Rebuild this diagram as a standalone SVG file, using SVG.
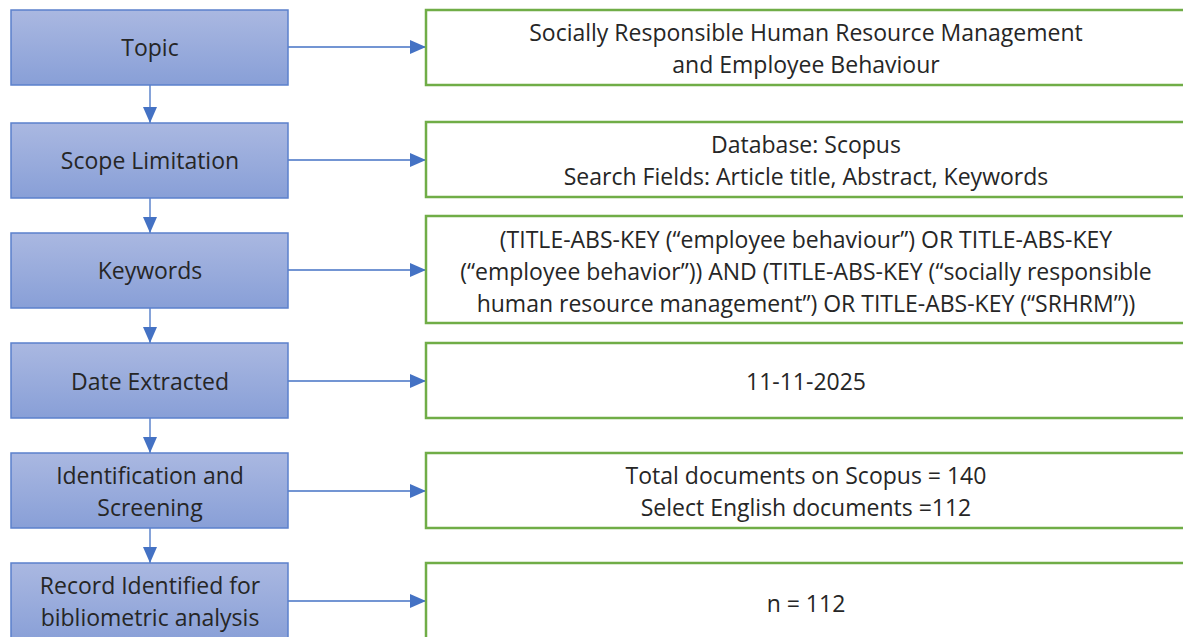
<svg xmlns="http://www.w3.org/2000/svg" width="1183" height="637" viewBox="0 0 1183 637">
<defs>
<linearGradient id="g" x1="0" y1="0" x2="0" y2="1">
<stop offset="0" stop-color="#AAB8E1"/>
<stop offset="1" stop-color="#889FD7"/>
</linearGradient>
<marker id="ah" markerWidth="16" markerHeight="14" refX="16" refY="7" orient="auto" markerUnits="userSpaceOnUse">
<path d="M0,0 L16,7 L0,14 Z" fill="#4472C4"/>
</marker>
<style>
.l{fill:url(#g);stroke:#5B80CC;stroke-width:1.5}
.r{fill:#fff;stroke:#70AD47;stroke-width:2.5}
.c{stroke:#4472C4;stroke-width:1.3;fill:none;marker-end:url(#ah)}
text{font-family:"Open Sans","Noto Sans",sans-serif;font-size:23px;fill:#262626;text-anchor:middle}
</style>
</defs>
<rect width="1183" height="637" fill="#fff"/>
<g id="connectors">
<path class="c" d="M288,47 H426"/>
<path class="c" d="M288,160 H426"/>
<path class="c" d="M288,270 H426"/>
<path class="c" d="M288,381 H426"/>
<path class="c" d="M288,491 H426"/>
<path class="c" d="M288,601 H426"/>
<path class="c" d="M150,85 V123"/>
<path class="c" d="M150,198 V233"/>
<path class="c" d="M150,308 V343"/>
<path class="c" d="M150,418 V453"/>
<path class="c" d="M150,528 V563"/>
</g>
<g id="n1"><rect class="l" x="11" y="10" width="277" height="75"/><text x="150" y="56">Topic</text></g>
<g id="n2"><rect class="l" x="11" y="123" width="277" height="75"/><text x="150" y="169">Scope Limitation</text></g>
<g id="n3"><rect class="l" x="11" y="233" width="277" height="75"/><text x="150" y="279">Keywords</text></g>
<g id="n4"><rect class="l" x="11" y="343" width="277" height="75"/><text x="150" y="390">Date Extracted</text></g>
<g id="n5"><rect class="l" x="11" y="453" width="277" height="75"/><text x="150" y="484">Identification and</text><text x="150" y="516">Screening</text></g>
<g id="n6"><rect class="l" x="11" y="563" width="277" height="80"/><text x="150" y="594">Record Identified for</text><text x="150" y="626">bibliometric analysis</text></g>
<g id="r1"><rect class="r" x="426" y="10" width="765" height="75"/><text x="806" y="41">Socially Responsible Human Resource Management</text><text x="806" y="73">and Employee Behaviour</text></g>
<g id="r2"><rect class="r" x="426" y="122" width="765" height="75"/><text x="806" y="153">Database: Scopus</text><text x="806" y="185">Search Fields: Article title, Abstract, Keywords</text></g>
<g id="r3"><rect class="r" x="426" y="216" width="765" height="107"/><text x="806" y="248">(TITLE-ABS-KEY (“employee behaviour”) OR TITLE-ABS-KEY</text><text x="806" y="280">(“employee behavior”)) AND (TITLE-ABS-KEY (“socially responsible</text><text x="806" y="312">human resource management”) OR TITLE-ABS-KEY (“SRHRM”))</text></g>
<g id="r4"><rect class="r" x="426" y="343" width="765" height="75"/><text x="806" y="390">11-11-2025</text></g>
<g id="r5"><rect class="r" x="426" y="453" width="765" height="75"/><text x="806" y="484">Total documents on Scopus = 140</text><text x="806" y="516">Select English documents =112</text></g>
<g id="r6"><rect class="r" x="426" y="563" width="765" height="80"/><text x="806" y="612">n = 112</text></g>
</svg>
